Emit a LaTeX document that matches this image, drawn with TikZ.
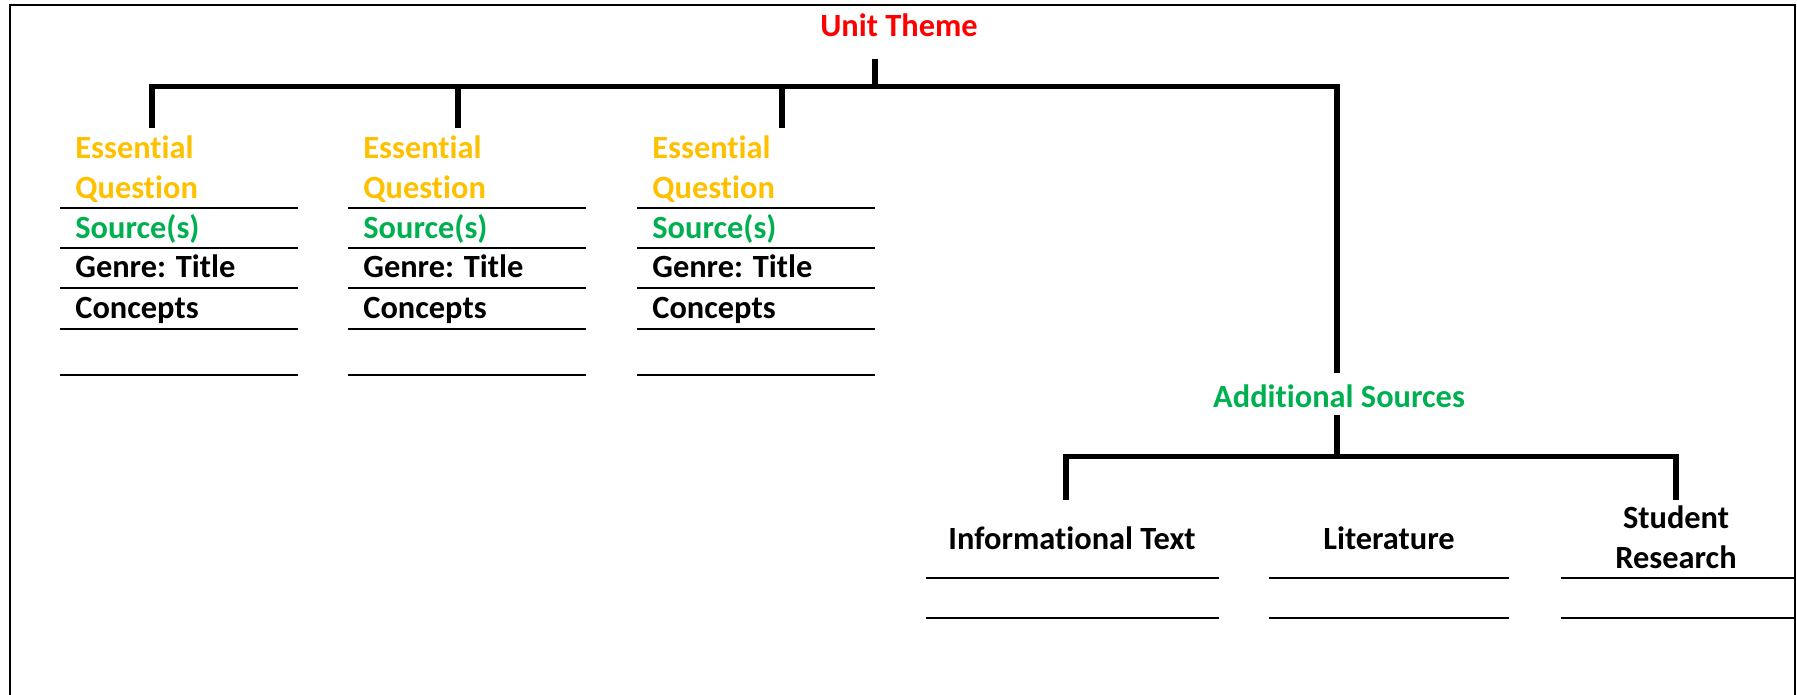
\documentclass[tikz,border=0pt]{standalone}
\usepackage{fontspec}
\setmainfont{Carlito}[Ligatures=CommonOff]
\usepackage{tikz}
\usetikzlibrary{positioning,calc}
\definecolor{themered}{HTML}{FF0000}
\definecolor{questiongold}{HTML}{FFC000}
\definecolor{sourcegreen}{HTML}{00B050}

\begin{document}
\begin{tikzpicture}[x=0.5pt, y=-0.5pt,
  entry/.style={inner sep=0pt, font=\fontsize{16.2}{19.75}\selectfont\bfseries, text=#1},
  entry/.default=black,
  bar/.style={line width=2.7pt, line join=miter},
  rule/.style={line width=1pt}
]
\useasboundingbox (0,0) rectangle (1797,695);
\draw[line width=1.1pt] (10,695) |- (1795,5) -- (1795,695);

\node[entry=themered, anchor=base] (theme) at (899,37) {Unit Theme};

\foreach \x [count=\i] in {60,348,637} {
  \node[entry=questiongold, anchor=base west, align=left] (eq\i) at (\x+15,198.5) {Essential\\Question};
  \node[entry=sourcegreen, anchor=base west] (src\i) at (\x+15,238) {Source(s)};
  \node[entry, anchor=base west] (genre\i) at (\x+15,278) {Genre: Title};
  \node[entry, anchor=base west] (concept\i) at (\x+15,318.5) {Concepts};
  \foreach \y in {208,248,288,329,375}
    \draw[rule] (\x,\y) -- ++(238,0);
}

\node[entry=sourcegreen, anchor=base] (adds) at (1339,407) {Additional Sources};
\node[entry, anchor=base] (info) at (1072,549) {Informational Text};
\node[entry, anchor=base] (lit) at (1389,549) {Literature};
\node[entry, anchor=base, align=center] (research) at (1676,568) {Student\\Research};

\coordinate (themefoot) at (875,59);
\coordinate (hub) at (875,86.5);
\coordinate (q1) at (152,128);
\coordinate (q2) at (458,128);
\coordinate (q3) at (782,128);
\coordinate (addtop) at (1337,373);
\draw[bar] (themefoot) -- (hub);
\draw[bar] (q1) |- (hub) -| (addtop);
\draw[bar] (q2) -- (q2 |- hub);
\draw[bar] (q3) -- (q3 |- hub);

\coordinate (addfoot) at (1337,415);
\coordinate (lowhub) at (1337,456.5);
\coordinate (s1) at (1066,500);
\coordinate (s3) at (1676,500);
\draw[bar] (addfoot) -- (lowhub);
\draw[bar] (s1) |- (lowhub) -| (s3);

\foreach \a/\b in {926/1219,1269/1509,1561/1795}
  \foreach \y in {578,618}
    \draw[rule] (\a,\y) -- (\b,\y);
\end{tikzpicture}
\end{document}
